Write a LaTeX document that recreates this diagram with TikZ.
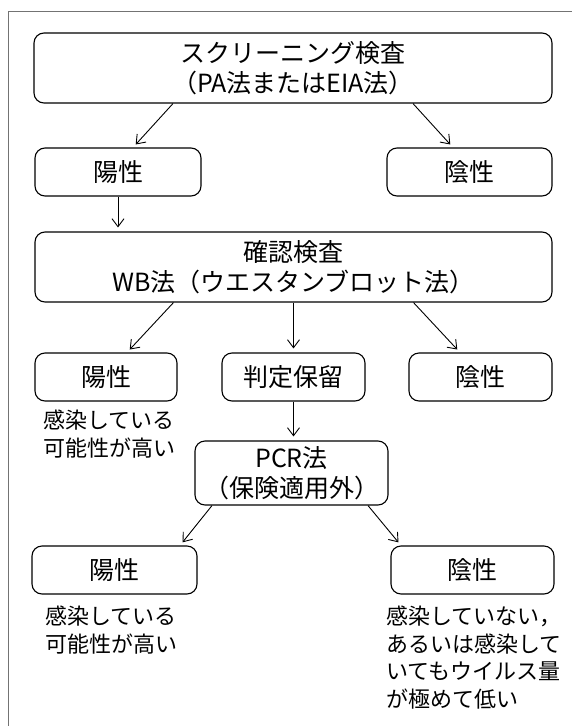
\documentclass[tikz,border=0pt]{standalone}
\usepackage{fontspec}
\newfontfamily\jp{Noto Sans CJK JP}
\usetikzlibrary{arrows.meta}
\begin{document}
\begin{tikzpicture}[x=1pt,y=-1pt,
  box/.style={draw=black, line width=1.1pt, rounded corners=10pt, inner sep=0pt, align=center,
    font=\jp\fontsize{25}{30}\selectfont},
  arr/.style={draw=black, line width=0.9pt, -{Straight Barb[length=8pt,width=12pt]}, shorten >=4pt},
  note/.style={anchor=north west, inner sep=0pt, align=left, font=\jp\fontsize{22}{27.5}\selectfont},
  frame/.style={draw=black!55, line width=1pt}]
\useasboundingbox (0,0) rectangle (572,726);
\draw[frame] (8,726) -- (8,11.5) -- (572,11.5);

% row 1
\node[box, minimum width=518pt, minimum height=70pt] (top) at (293,68) {スクリーニング検査\\（PA法またはEIA法）};
% row 2
\node[box, minimum width=166pt, minimum height=48pt] (y1) at (118,172) {陽性};
\node[box, minimum width=165pt, minimum height=48pt] (n1) at (469.5,172) {陰性};
% row 3
\node[box, minimum width=517pt, minimum height=70pt] (wb) at (293.5,267) {確認検査\\WB法（ウエスタンブロット法）};
% row 4
\node[box, minimum width=142pt, minimum height=48pt] (y2) at (106,377) {陽性};
\node[box, minimum width=143pt, minimum height=48pt] (h) at (293.5,377) {判定保留};
\node[box, minimum width=143pt, minimum height=48pt] (n2) at (480.5,377) {陰性};
% row 5
\node[box, minimum width=193pt, minimum height=64pt] (pcr) at (291.5,473) {PCR法\\（保険適用外）};
% row 6
\node[box, minimum width=165pt, minimum height=48pt] (y3) at (114.5,570) {陽性};
\node[box, minimum width=163pt, minimum height=48pt] (n3) at (472.5,570) {陰性};

% notes
\node[note] (a1) at (43,410) {感染している\\可能性が高い};
\node[note] (a2) at (45,606) {感染している\\可能性が高い};
\node[note] (a3) at (386,606) {感染していない，\\あるいは感染して\\いてもウイルス量\\が極めて低い};

% connectors
\draw[arr] ([xshift=-120pt]top.south) -- ([xshift=15pt]y1.north);
\draw[arr] ([xshift=120pt]top.south) -- ([xshift=-16.5pt]n1.north);
\draw[arr] (y1.south) -- (y1.south |- wb.north);
\draw[arr] ([xshift=-120pt]wb.south) -- ([xshift=21pt]y2.north);
\draw[arr] (wb.south) -- (wb.south |- h.north);
\draw[arr] ([xshift=120pt]wb.south) -- ([xshift=-20.5pt]n2.north);
\draw[arr] (h.south) -- (h.south |- pcr.north);
\draw[arr] ([xshift=-79.5pt]pcr.south) -- ([xshift=65.5pt]y3.north);
\draw[arr] ([xshift=76.5pt]pcr.south) -- ([xshift=-71.5pt]n3.north);
\end{tikzpicture}
\end{document}
